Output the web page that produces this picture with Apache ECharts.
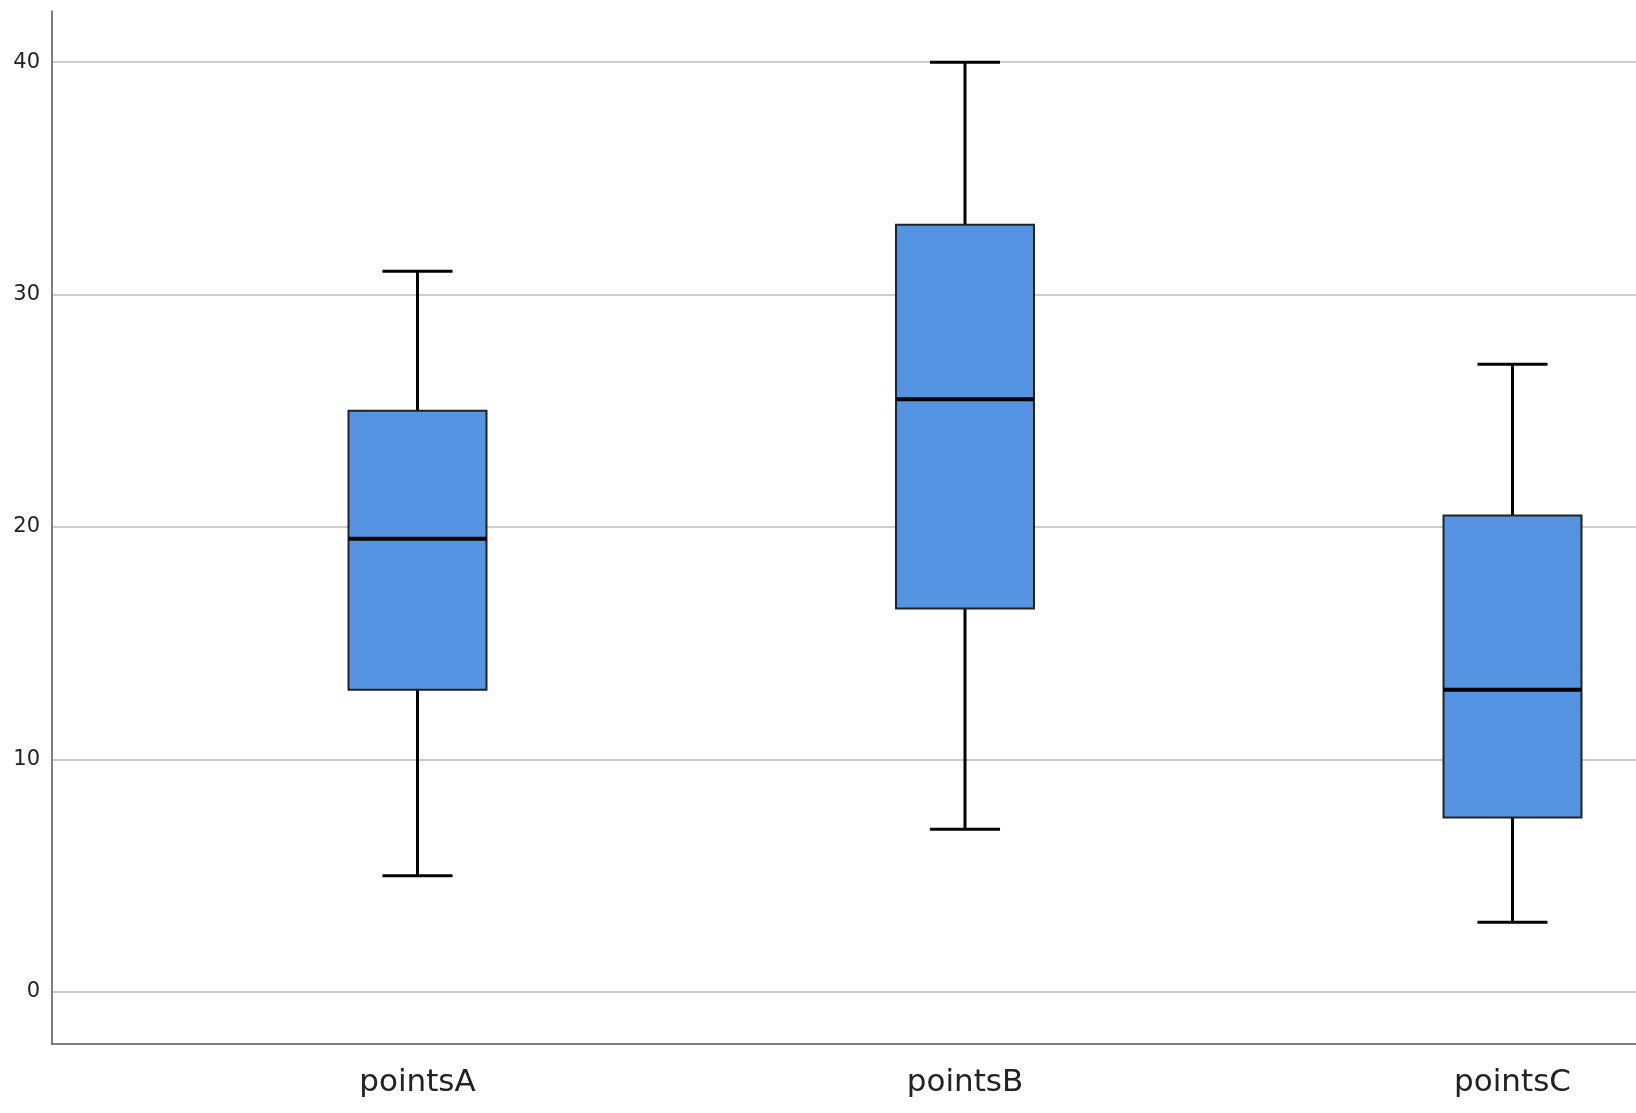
<!DOCTYPE html>
<html>
<head>
<meta charset="utf-8">
<script src="https://cdn.jsdelivr.net/npm/echarts@6.0.0/dist/echarts.min.js"></script>
<style>
  html, body { margin: 0; padding: 0; background: #fff; }
  #chart { width: 1636px; height: 1113px; }
</style>
</head>
<body>
<div id="chart"></div>
<script type="text/javascript">
// box plot values
var categories = ['pointsA', 'pointsB', 'pointsC'];
var whiskerLow = [5, 7, 3];
var quartile1 = [13, 16.5, 7.5];
var medians = [19.5, 25.5, 13];
var quartile3 = [25, 33, 20.5];
var whiskerHigh = [31, 40, 27];

var yMin = -2.24, yMax = 42.2;
var font = 'DejaVu Sans';

var boxData = categories.map(function (c, i) {
  return [i, whiskerLow[i], quartile1[i], medians[i], quartile3[i], whiskerHigh[i]];
});

function renderBox(params, api) {
  var i = api.value(0);
  var lo = api.coord([i, api.value(1)]);
  var q1 = api.coord([i, api.value(2)]);
  var md = api.coord([i, api.value(3)]);
  var q3 = api.coord([i, api.value(4)]);
  var hi = api.coord([i, api.value(5)]);
  var band = api.size([1, 0])[0];
  var half = band * 0.126;   // half box width
  var cap = band * 0.064;    // half whisker cap width
  var cx = lo[0];
  var thick = { stroke: '#000', lineWidth: 3 };
  return {
    type: 'group',
    children: [
      { type: 'line', shape: { x1: cx, y1: q3[1], x2: cx, y2: hi[1] }, style: thick },
      { type: 'line', shape: { x1: cx, y1: q1[1], x2: cx, y2: lo[1] }, style: thick },
      { type: 'line', shape: { x1: cx - cap, y1: hi[1], x2: cx + cap, y2: hi[1] }, style: thick },
      { type: 'line', shape: { x1: cx - cap, y1: lo[1], x2: cx + cap, y2: lo[1] }, style: thick },
      {
        type: 'rect',
        shape: { x: cx - half, y: q3[1], width: half * 2, height: q1[1] - q3[1] },
        style: { fill: '#5594e3', stroke: '#222', lineWidth: 2 }
      },
      { type: 'line', shape: { x1: cx - half, y1: md[1], x2: cx + half, y2: md[1] }, style: { stroke: '#000', lineWidth: 4 } }
    ]
  };
}

var myChart = echarts.init(document.getElementById('chart'));
myChart.setOption({
  animation: false,
  backgroundColor: '#fff',
  grid: [
    { left: 52, right: 0, top: 11, bottom: 69, outerBoundsMode: 'none' },
    { left: 143.75, width: 1642.5, top: 11, bottom: 69, outerBoundsMode: 'none' }
  ],
  xAxis: [
    {
      gridIndex: 0, type: 'value', min: 0, max: 1,
      axisLine: { show: true, onZero: false, lineStyle: { color: '#555', width: 1.5 } },
      axisTick: { show: false }, axisLabel: { show: false }, splitLine: { show: false }
    },
    {
      gridIndex: 1, type: 'category', data: categories,
      axisLine: { show: false, onZero: false }, axisTick: { show: false },
      axisLabel: { interval: 0, margin: 23, fontSize: 31, fontFamily: font, color: '#222' },
      splitLine: { show: false }
    }
  ],
  yAxis: [
    {
      gridIndex: 0, type: 'value', min: yMin, max: yMax,
      axisLine: { show: true, onZero: false, lineStyle: { color: '#555', width: 1.5 } },
      axisTick: { show: false },
      axisLabel: {
        margin: 12, fontSize: 21, fontFamily: font, color: '#222', padding: [5, 0, 0, 0],
        showMinLabel: false, showMaxLabel: false
      },
      splitLine: { show: true, showMinLine: false, showMaxLine: false, lineStyle: { color: '#cdcdcd', width: 2 } }
    },
    {
      gridIndex: 1, type: 'value', min: yMin, max: yMax, show: false
    }
  ],
  series: [
    {
      type: 'custom',
      xAxisIndex: 1,
      yAxisIndex: 1,
      renderItem: renderBox,
      encode: { x: 0, y: [1, 2, 3, 4, 5] },
      data: boxData
    }
  ]
});
</script>
</body>
</html>
